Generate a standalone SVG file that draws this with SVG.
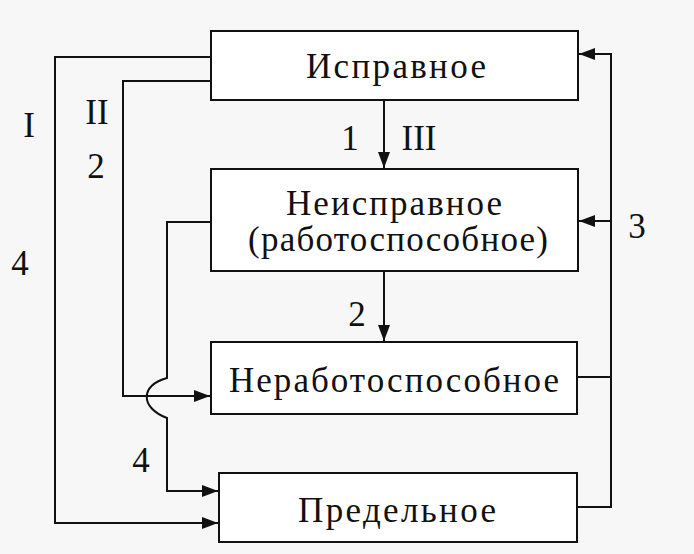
<svg xmlns="http://www.w3.org/2000/svg" width="694" height="554" viewBox="0 0 694 554">
<defs>
<marker id="ah" viewBox="0 0 16 12" refX="16" refY="6" markerWidth="16" markerHeight="12" markerUnits="userSpaceOnUse" orient="auto">
<path d="M0,0 L16,6 L0,12 Z" fill="#111"/>
</marker>
<style>
.box{fill:#fff;stroke:#111;stroke-width:2}
.ln{fill:none;stroke:#111;stroke-width:2}
</style>
</defs>
<rect width="694" height="554" fill="#f7f7f7"/>
<g id="connectors">
<path class="ln" d="M211,57 H55 V523 H218" marker-end="url(#ah)"/>
<path class="ln" d="M211,81 H123 V396 H210" marker-end="url(#ah)"/>
<path class="ln" d="M211,222 H167 V378 C140,385 140,408 167,418 V491 H218" marker-end="url(#ah)"/>
<path class="ln" d="M384,100 V168" marker-end="url(#ah)"/>
<path class="ln" d="M384,271 V341" marker-end="url(#ah)"/>
<path class="ln" d="M577,507 H611 V54 H579" marker-end="url(#ah)"/>
<path class="ln" d="M611,221 H579" marker-end="url(#ah)"/>
<path class="ln" d="M577,377 H611"/>
</g>
<g font-family="Liberation Serif, DejaVu Serif, Times New Roman, serif" font-size="35" fill="#111" text-anchor="middle">
<g id="n1"><rect class="box" x="211" y="31" width="367" height="69"/><text x="396" y="78" textLength="180" lengthAdjust="spacing">Исправное</text></g>
<g id="n2"><rect class="box" x="211" y="169" width="367" height="102"/><text x="394" y="215" textLength="216" lengthAdjust="spacing">Неисправное</text><text x="398" y="251" textLength="300" lengthAdjust="spacing">(работоспособное)</text></g>
<g id="n3"><rect class="box" x="211" y="342" width="366" height="72"/><text x="394" y="392" textLength="330" lengthAdjust="spacing">Неработоспособное</text></g>
<g id="n4"><rect class="box" x="219" y="473" width="358" height="69"/><text x="397" y="522" textLength="198" lengthAdjust="spacing">Предельное</text></g>
<g id="labels">
<text x="29" y="137">I</text>
<text x="97" y="124">II</text>
<text x="96" y="178">2</text>
<text x="20" y="275">4</text>
<text x="141" y="472">4</text>
<text x="637" y="238">3</text>
<text x="350" y="150">1</text>
<text x="419" y="150">III</text>
<text x="357" y="326">2</text>
</g>
</g>
</svg>
